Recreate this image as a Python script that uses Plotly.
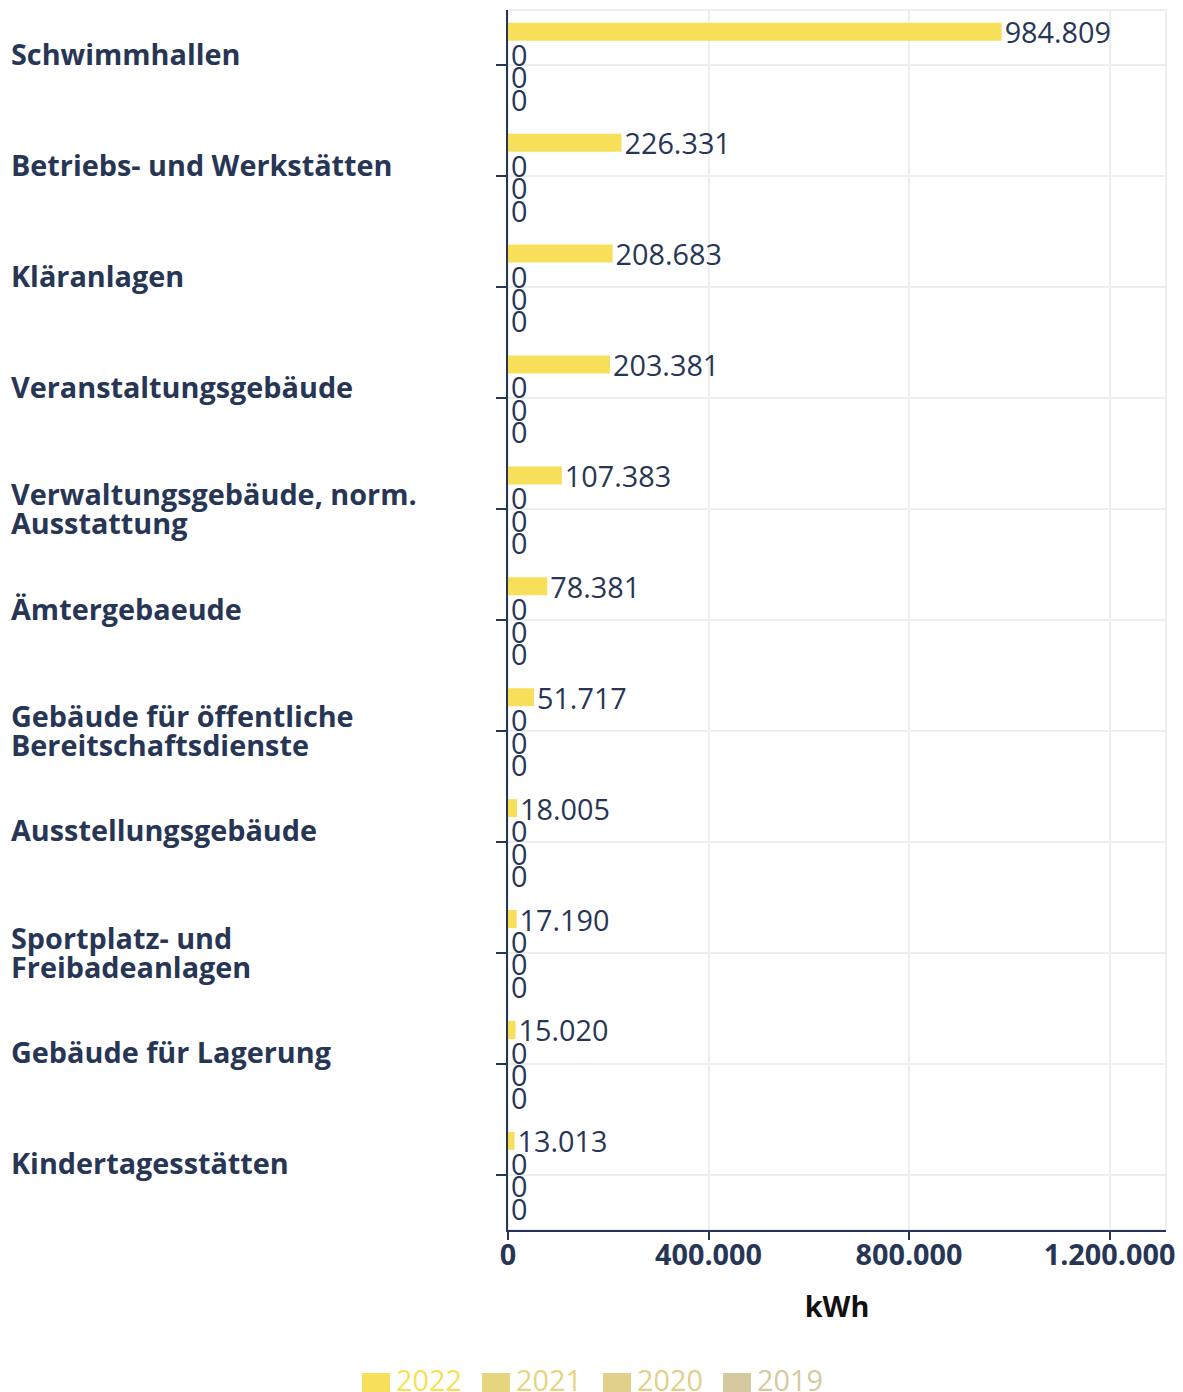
import plotly.graph_objects as go

categories = [
    "Schwimmhallen",
    "Betriebs- und Werkstätten",
    "Kläranlagen",
    "Veranstaltungsgebäude",
    "Verwaltungsgebäude, norm.<br>Ausstattung",
    "Ämtergebaeude",
    "Gebäude für öffentliche<br>Bereitschaftsdienste",
    "Ausstellungsgebäude",
    "Sportplatz- und<br>Freibadeanlagen",
    "Gebäude für Lagerung",
    "Kindertagesstätten",
]
v2022 = [984809, 226331, 208683, 203381, 107383, 78381, 51717, 18005, 17190, 15020, 13013]
v2021 = [0] * 11
v2020 = [0] * 11
v2019 = [0] * 11

years = ["2022", "2021", "2020", "2019"]
series = [v2022, v2021, v2020, v2019]
colors = ["#f7df5a", "#e6d47e", "#e1d089", "#d5c9a0"]

tickvals = [0, 400000, 800000, 1200000]
ticktext = ["0", "400.000", "800.000", "1.200.000"]

TXT = "#283655"
FONT = "Open Sans"
FS = 28.8

# figure geometry (figure px)
W, H = 1175, 1384
L, T = 500, 2
PR, PB = 1158, 1222          # plot right / bottom
R, B = W - PR, H - PB
pw, ph = PR - L, PB - T

def px_x(x):
    return (x - L) / pw

def px_y(y):
    return (PB - y) / ph

fig = go.Figure()
for yr, vals, col in zip(years, series, colors):
    fig.add_trace(go.Bar(
        y=categories, x=vals, orientation="h", name=yr,
        marker=dict(color=col, line=dict(width=0)),
        text=[f"{v:,}".replace(",", ".") for v in vals],
        textposition="outside", constraintext="none",
        textfont=dict(family=FONT, size=FS, color=TXT),
        cliponaxis=False, showlegend=False,
    ))

annotations = []
LINE = 29
for c in categories:
    lines = c.split("<br>")
    n = len(lines)
    base = 12 if n == 1 else 1
    for i, ln in enumerate(lines):
        off = base + ((n - 1) / 2 - i) * LINE
        annotations.append(dict(
            x=px_x(1), xref="paper", y=c, yref="y",
            text=f"<b>{ln}</b>", showarrow=False, xanchor="left", align="left",
            yshift=off,
            font=dict(family=FONT, size=FS, color=TXT),
        ))

shapes = [dict(type="rect", xref="paper", yref="paper", x0=0, x1=1, y0=0, y1=1,
               line=dict(color="#eeeeee", width=2), layer="below")]

# legend (manual, to reproduce wide swatches)
leg_x = [354, 474, 595, 715]
for yr, col, lx in zip(years, colors, leg_x):
    shapes.append(dict(type="rect", xref="paper", yref="paper",
                       x0=px_x(lx), x1=px_x(lx + 28), y0=px_y(1365), y1=px_y(1393),
                       fillcolor=col, line=dict(width=0)))
    annotations.append(dict(x=px_x(lx + 32), xref="paper", y=px_y(1371), yref="paper",
                            text=yr, showarrow=False, xanchor="left", yanchor="middle",
                            font=dict(family=FONT, size=FS, color=col)))

fig.update_layout(
    width=W, height=H,
    margin=dict(l=L, r=R, t=T, b=B, autoexpand=False),
    paper_bgcolor="white", plot_bgcolor="white",
    barmode="group", bargap=0.19, bargroupgap=0.2,
    separators=",.",
    font=dict(family=FONT, color=TXT),
    showlegend=False,
    annotations=annotations,
    shapes=shapes,
)
fig.update_xaxes(
    range=[0, 1312700], tickvals=tickvals, ticktext=ticktext,
    tickfont=dict(family=FONT, size=FS, color=TXT, weight="bold"),
    ticklabelstandoff=-10,
    showgrid=True, gridcolor="#eeeeee", gridwidth=2,
    showline=True, linecolor=TXT, linewidth=2,
    ticks="outside", ticklen=8, tickcolor=TXT, tickwidth=2,
    zeroline=False, automargin=False,
    title=dict(text="<b>kWh</b>", font=dict(family=FONT, size=FS, color="#111111"), standoff=25),
)
fig.update_yaxes(
    autorange="reversed", showticklabels=False,
    showgrid=True, gridcolor="#eeeeee", gridwidth=2,
    showline=True, linecolor=TXT, linewidth=2,
    ticks="outside", ticklen=10, tickcolor=TXT, tickwidth=2,
    automargin=False,
)

fig.write_html("out.html")
